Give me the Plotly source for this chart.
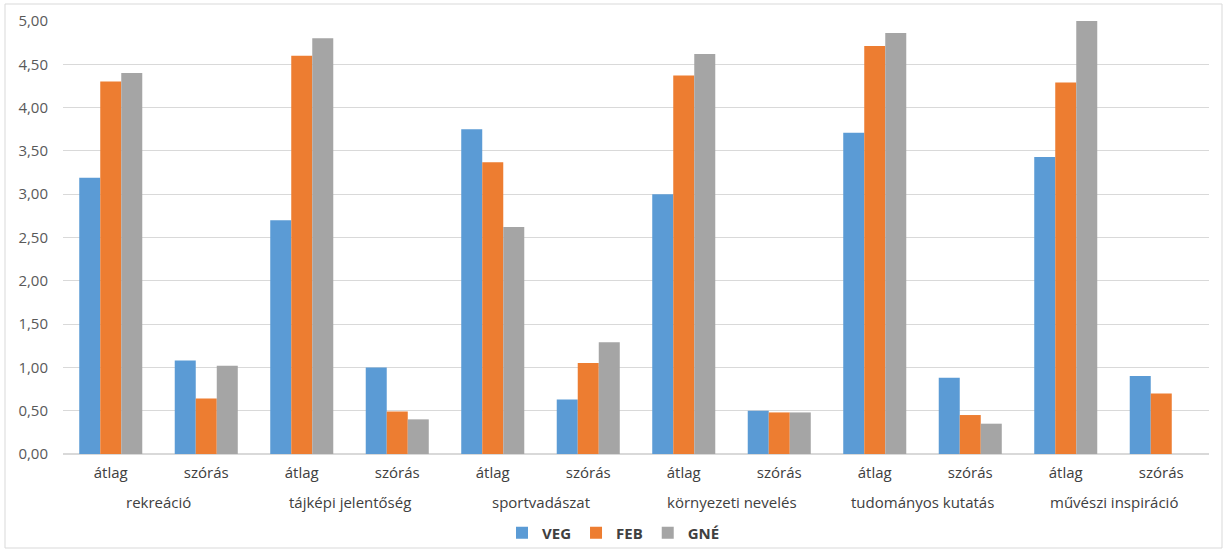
import plotly.graph_objects as go

groups = ["rekreáció", "tájképi jelentőség", "sportvadászat",
          "környezeti nevelés", "tudományos kutatás", "művészi inspiráció"]
stats = ["átlag", "szórás"]

veg = [3.19, 1.08, 2.70, 1.00, 3.75, 0.63, 3.00, 0.50, 3.71, 0.88, 3.43, 0.90]
feb = [4.30, 0.64, 4.60, 0.49, 3.37, 1.05, 4.37, 0.48, 4.71, 0.45, 4.29, 0.70]
gne = [4.40, 1.02, 4.80, 0.40, 2.62, 1.29, 4.62, 0.48, 4.86, 0.35, 5.00, None]

series = [("VEG", veg, "#5B9BD5"), ("FEB", feb, "#ED7D31"), ("GNÉ", gne, "#A5A5A5")]

lvl2 = [s for _ in groups for s in stats]
xpos = list(range(len(lvl2)))

font = "Open Sans, Liberation Sans, sans-serif"
fig = go.Figure()
for name, vals, col in series:
    fig.add_trace(go.Bar(x=xpos, y=vals, name=f"<b>{name}</b>", marker_color=col,
                         marker_line_width=0))

annotations = []
for i, g in enumerate(groups):
    annotations.append(dict(x=i * len(stats) + (len(stats) - 1) / 2, y=0, xref="x", yref="y",
                            yshift=-48, text=g, showarrow=False, yanchor="middle",
                            font=dict(family=font, size=15, color="#404040")))

fig.update_layout(
    width=1227, height=551,
    margin=dict(l=63, r=18, t=21, b=97, autoexpand=False),
    paper_bgcolor="white", plot_bgcolor="white",
    barmode="group", bargap=0.34, bargroupgap=0,
    separators=", ",
    font=dict(family=font, size=14, color="#404040"),
    showlegend=True,
    legend=dict(orientation="h", x=0.5, xref="container", xanchor="center",
                y=1 - 533 / 551, yref="container", yanchor="middle",
                bgcolor="rgba(0,0,0,0)",
                font=dict(size=15, color="#404040", family=font), traceorder="normal",
                itemwidth=30),
    xaxis=dict(range=[-0.5, len(lvl2) - 0.5], tickvals=xpos, ticktext=lvl2,
               showgrid=False, showline=False, zeroline=False, ticks="", automargin=False,
               ticklabelstandoff=8,
               tickfont=dict(size=15, color="#404040")),
    yaxis=dict(range=[0, 5], dtick=0.5, tickformat=".2f", showgrid=True,
               gridcolor="#D9D9D9", gridwidth=1, zeroline=True, zerolinecolor="#D9D9D9",
               showline=False, ticks="", ticklabelstandoff=14, automargin=False,
               tickfont=dict(size=15, color="#595959")),
    annotations=annotations,
    shapes=[dict(type="rect", xref="paper", yref="paper",
                 x0=-58/1146, x1=1 + 13/1146, y0=-94/433, y1=1 + 17/433,
                 line=dict(color="#D9D9D9", width=1), fillcolor="rgba(0,0,0,0)", layer="below")],
)

fig.write_html("out.html", config={"displayModeBar": False},
               post_script="document.body.style.margin='0';document.body.style.overflow='hidden';")
